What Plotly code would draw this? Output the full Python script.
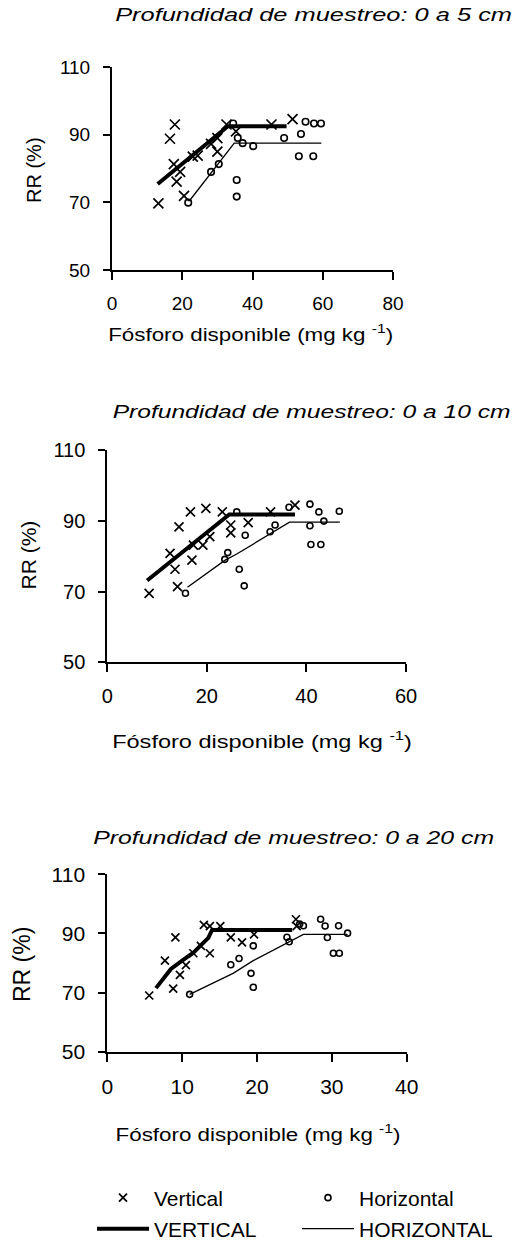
import plotly.graph_objects as go

W, H = 516, 1242
FONT = "Arial, 'Liberation Sans', sans-serif"

# ---------------- data: 0 a 5 cm ----------------
v1_x = [13.2, 16.5, 17.9, 17.6, 19.4, 18.4, 20.5, 23.0, 24.4, 28.2, 30.0, 30.0, 32.6, 35.3, 45.4, 51.4]
v1_y = [69.7, 88.8, 93.0, 81.3, 79.0, 76.1, 71.9, 83.5, 83.8, 87.3, 89.0, 85.0, 93.0, 91.0, 93.0, 94.6]
h1_x = [21.7, 28.2, 30.4, 34.5, 35.5, 35.5, 35.8, 37.2, 40.2, 49.0, 53.8, 55.1, 53.2, 57.3, 57.5, 59.5]
h1_y = [69.9, 79.0, 81.3, 93.3, 76.6, 71.7, 89.0, 87.5, 86.6, 89.0, 90.2, 93.8, 83.6, 83.6, 93.3, 93.3]
V1_x = [13.0, 33.0, 49.7]
V1_y = [75.4, 92.5, 92.5]
H1_x = [22.0, 34.8, 59.6]
H1_y = [70.4, 87.5, 87.5]

# ---------------- data: 0 a 10 cm ----------------
v2_x = [8.4, 12.6, 13.6, 14.4, 14.1, 16.7, 17.0, 17.3, 19.2, 19.8, 20.6, 23.1, 24.8, 24.8, 28.3, 32.8, 37.7]
v2_y = [69.5, 80.8, 76.3, 88.3, 71.4, 92.5, 78.9, 83.1, 83.1, 93.5, 85.5, 92.5, 88.8, 86.6, 89.5, 92.5, 94.4]
h2_x = [15.7, 23.6, 24.2, 26.0, 26.5, 27.7, 27.5, 32.7, 33.7, 36.5, 40.7, 40.7, 40.9, 42.5, 42.9, 43.5, 46.6]
h2_y = [69.5, 79.1, 81.0, 92.5, 76.3, 85.9, 71.6, 86.9, 88.8, 93.8, 94.7, 88.6, 83.3, 92.5, 83.3, 89.9, 92.7]
V2_x = [8.0, 24.5, 37.7]
V2_y = [73.1, 91.8, 91.8]
H2_x = [16.1, 23.6, 26.0, 36.6, 46.7]
H2_y = [71.2, 78.8, 80.6, 89.6, 89.6]

# ---------------- data: 0 a 20 cm ----------------
v3_x = [5.6, 7.7, 8.8, 9.1, 9.7, 10.5, 12.5, 11.5, 13.7, 13.7, 15.1, 16.5, 18.0, 19.6, 25.2, 25.3, 12.9]
v3_y = [69.0, 80.8, 71.3, 88.7, 76.0, 79.3, 85.8, 83.3, 83.3, 92.5, 92.5, 88.7, 87.0, 89.7, 94.8, 92.5, 92.9]
h3_x = [11.0, 16.5, 17.6, 19.2, 19.5, 19.5, 24.0, 24.3, 25.7, 26.2, 28.5, 29.1, 29.4, 30.2, 31.0, 30.9, 32.1]
h3_y = [69.4, 79.4, 81.5, 76.5, 71.8, 85.8, 88.7, 87.2, 93.2, 92.6, 94.8, 92.5, 88.6, 83.3, 83.3, 92.6, 90.1]
V3_x = [6.5, 7.5, 8.5, 10.0, 11.5, 13.5, 14.0, 24.7]
V3_y = [71.5, 75.0, 78.0, 80.8, 83.5, 88.5, 91.2, 91.2]
H3_x = [11.0, 16.8, 19.5, 26.2, 32.1]
H3_y = [69.4, 76.5, 80.8, 89.7, 89.7]

titles = ["Profundidad de muestreo: 0 a 5 cm",
          "Profundidad de muestreo: 0 a 10 cm",
          "Profundidad de muestreo: 0 a 20 cm"]
x_title = "Fósforo disponible (mg kg <sup>-1</sup>)"
y_title = "RR (%)"
x_ranges = [[0, 80], [0, 60], [0, 40]]
x_dticks = [20, 20, 10]
y_range = [50, 110]
y_dtick = 20
legend_names = ["Vertical", "Horizontal", "VERTICAL", "HORIZONTAL"]

# ---------------- layout geometry (pixels) ----------------
boxes = [(112, 393, 67, 270), (107.3, 406, 450, 662.3), (107.3, 406.7, 874.3, 1051.7)]
tick_font = [19, 20, 21]
cross_size = [10, 9, 8]
circ_size = [6.5, 6, 6]


def px(x):
    return x / W


def py(y):
    return 1 - y / H


series = [
    (v1_x, v1_y, h1_x, h1_y, V1_x, V1_y, H1_x, H1_y),
    (v2_x, v2_y, h2_x, h2_y, V2_x, V2_y, H2_x, H2_y),
    (v3_x, v3_y, h3_x, h3_y, V3_x, V3_y, H3_x, H3_y),
]

fig = go.Figure()
for i, (vx, vy, hx, hy, Vx, Vy, Hx, Hy) in enumerate(series):
    sfx = "" if i == 0 else str(i + 1)
    xa, ya = "x" + sfx, "y" + sfx
    leg = (i == 2)
    fig.add_trace(go.Scatter(x=Vx, y=Vy, mode="lines", xaxis=xa, yaxis=ya,
                             line=dict(color="black", width=4),
                             name=legend_names[2], showlegend=leg, legend="legend3"))
    fig.add_trace(go.Scatter(x=Hx, y=Hy, mode="lines", xaxis=xa, yaxis=ya,
                             line=dict(color="black", width=1.3),
                             name=legend_names[3], showlegend=leg, legend="legend4"))
    fig.add_trace(go.Scatter(x=vx, y=vy, mode="markers", xaxis=xa, yaxis=ya,
                             marker=dict(symbol="x-thin-open", size=cross_size[i],
                                         line=dict(color="black", width=1.7), color="black"),
                             name=legend_names[0], showlegend=leg, legend="legend"))
    fig.add_trace(go.Scatter(x=hx, y=hy, mode="markers", xaxis=xa, yaxis=ya,
                             marker=dict(symbol="circle-open", size=circ_size[i],
                                         line=dict(color="black", width=1.6), color="black"),
                             name=legend_names[1], showlegend=leg, legend="legend2"))

    x0, x1, yt, yb = boxes[i]
    common = dict(showline=True, linecolor="black", linewidth=2, ticks="outside",
                  tickwidth=1.5, tickcolor="black", showgrid=False, zeroline=False,
                  fixedrange=True,
                  tickfont=dict(family=FONT, size=tick_font[i], color="black"))
    fig.update_layout(**{
        "xaxis" + sfx: dict(domain=[px(x0), px(x1)], range=x_ranges[i], dtick=x_dticks[i],
                            tick0=0, anchor=ya, ticklen=8, ticklabelstandoff=7, **common),
        "yaxis" + sfx: dict(domain=[py(yb), py(yt)], range=y_range, dtick=y_dtick,
                            tick0=50, anchor=xa, ticklen=7, ticklabelstandoff=9, **common),
    })

annotations = []
title_pos = [(313.5, 15), (311, 412), (293, 838)]
xt_pos = [(250.5, 334), (262, 740), (257.5, 1133)]
yt_pos = [(34, 170), (27.5, 555), (22, 965)]
yt_size = [20, 21, 23]
for i in range(3):
    annotations.append(dict(text=titles[i], x=px(title_pos[i][0]), y=py(title_pos[i][1]),
                            xref="paper", yref="paper", showarrow=False,
                            xanchor="center", yanchor="middle",
                            font=dict(family=FONT, size=18, color="black", style="italic")))
    annotations.append(dict(text=x_title, x=px(xt_pos[i][0]), y=py(xt_pos[i][1]),
                            xref="paper", yref="paper", showarrow=False,
                            xanchor="center", yanchor="middle",
                            font=dict(family=FONT, size=18 if i == 0 else 19, color="black")))
    annotations.append(dict(text=y_title, x=px(yt_pos[i][0]), y=py(yt_pos[i][1]),
                            xref="paper", yref="paper", showarrow=False, textangle=-90,
                            xanchor="center", yanchor="middle",
                            font=dict(family=FONT, size=yt_size[i], color="black")))


def leg(xpix, ypix):
    return dict(orientation="h", x=px(xpix), y=py(ypix), xanchor="left", yanchor="middle",
                itemwidth=52, font=dict(family=FONT, size=21, color="black"),
                bgcolor="rgba(0,0,0,0)", borderwidth=0)


fig.update_layout(
    width=W, height=H,
    margin=dict(l=0, r=0, t=0, b=0, autoexpand=False),
    paper_bgcolor="white", plot_bgcolor="white",
    annotations=annotations,
    showlegend=True,
    legend=leg(92, 1198),
    legend2=leg(297, 1198),
    legend3=leg(92, 1229),
    legend4=leg(297, 1229),
)

# stretch the wide titles horizontally as in the reference
post = """
document.body.style.margin = '0';
var gd = document.getElementById('{plot_id}');
var targets = {0: 397, 3: 398, 6: 401, 1: 285, 4: 300, 7: 285};
gd.querySelectorAll('g.annotation').forEach(function(g) {
  var idx = parseInt(g.getAttribute('data-index'));
  if (!(idx in targets)) return;
  var t = g.querySelector('text.annotation-text');
  if (!t) return;
  var bb = t.getBBox();
  if (!bb.width) return;
  var s = targets[idx] / bb.width;
  var cx = bb.x + bb.width / 2;
  t.setAttribute('transform', 'translate(' + (cx * (1 - s)) + ',0) scale(' + s + ',1)');
});
"""

fig.write_html("out.html", post_script=post, config={"displayModeBar": False})
